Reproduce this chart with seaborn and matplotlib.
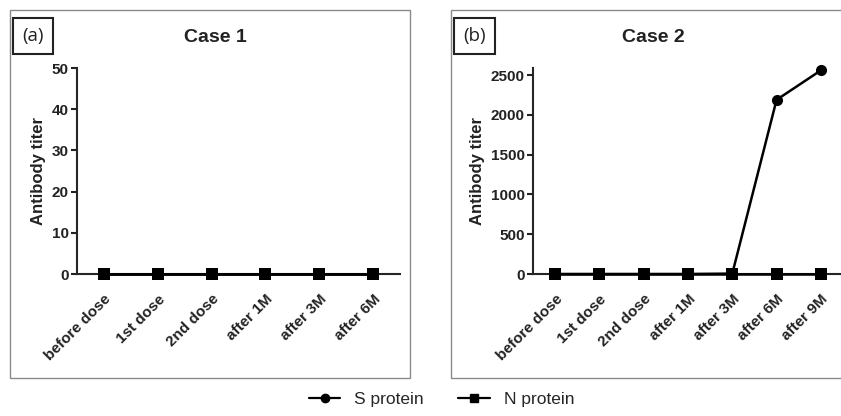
import numpy as np
import pandas as pd
import seaborn as sns
from matplotlib import pyplot as plt
from matplotlib.patches import Rectangle


# Data
case1_labels = ['before dose', '1st dose', '2nd dose', 'after 1M', 'after 3M', 'after 6M']
case1_s = [0, 0, 0, 0, 0, 0]
case1_n = [0, 0, 0, 0, 0, 0]

case2_labels = ['before dose', '1st dose', '2nd dose', 'after 1M', 'after 3M', 'after 6M', 'after 9M']
case2_s = [0, 0, 0, 0, 5, 2190, 2560]
case2_n = [0, 0, 0, 0, 0, 0, 0]


def to_long(labels, s_vals, n_vals):
    df = pd.DataFrame({'time': labels * 2,
                       'titer': s_vals + n_vals,
                       'protein': ['S protein'] * len(labels) + ['N protein'] * len(labels)})
    df['x'] = list(range(len(labels))) * 2
    return df


sns.set_style("ticks")
plt.rcParams['font.family'] = ['Liberation Sans', 'DejaVu Sans']

fig = plt.figure(figsize=(8.41, 4.16), dpi=100)

H = 416.0
W = 841.0
ax1 = fig.add_axes([77 / W, 1 - 274 / H, 323 / W, 206 / H])
ax2 = fig.add_axes([533 / W, 1 - 274 / H, 310 / W, 206 / H])

panels = [
    (ax1, case1_labels, case1_s, case1_n, 50, [0, 10, 20, 30, 40, 50], 'Case 1', '(a)', 10, 400),
    (ax2, case2_labels, case2_s, case2_n, 2590, [0, 500, 1000, 1500, 2000, 2500], 'Case 2', '(b)', 451, 395),
]

for ax, labels, s_vals, n_vals, ytop, yticks, title, tag, px, pw in panels:
    df = to_long(labels, s_vals, n_vals)
    sns.lineplot(data=df, x='x', y='titer', hue='protein', style='protein',
                 markers={'S protein': 'o', 'N protein': 's'}, dashes=False,
                 palette={'S protein': 'black', 'N protein': 'black'},
                 markersize=8, linewidth=1.8, markeredgewidth=0,
                 ax=ax, legend=False, clip_on=False, zorder=3)
    ax.set_xlim(-0.5, len(labels) - 0.5)
    ax.set_ylim(0, ytop)
    ax.set_yticks(yticks)
    ax.set_xticks(range(len(labels)))
    ax.set_xticklabels(labels, rotation=45, ha='right', rotation_mode='anchor')
    ax.tick_params(axis='both', labelsize=11, width=1.5, length=4, color='#222222', pad=2)
    ax.tick_params(axis='x', pad=9)
    for lab in ax.get_xticklabels() + ax.get_yticklabels():
        lab.set_fontweight('bold')
        lab.set_color('#222222')
    ax.set_xlabel('')
    ax.set_ylabel('Antibody titer', fontsize=12, fontweight='bold', color='#222222', labelpad=4)
    sns.despine(ax=ax)
    ax.spines['left'].set_linewidth(1.5)
    ax.spines['bottom'].set_linewidth(1.5)
    ax.patch.set_alpha(0)

    # Panel frame, label box and title
    fig.patches.append(Rectangle((px / W, 1 - 378 / H), pw / W, 368 / H,
                                 transform=fig.transFigure, fill=False,
                                 edgecolor='#8a8a8a', linewidth=1.0))
    ax_center = (px + pw / 2) / W
    fig.text(ax_center + 5 / W, 1 - 38 / H, title, ha='center', va='center',
             fontsize=14, fontweight='bold', color='#222222')
    fig.text((px + 12) / W, 1 - 36 / H, tag, ha='left', va='center', fontsize=13.5,
             color='#222222', family=['Open Sans', 'DejaVu Sans'],
             bbox=dict(boxstyle='square,pad=0.5', facecolor='white', edgecolor='#222222', linewidth=1.5))

# Shared legend at the bottom
handles = [plt.Line2D([], [], color='black', marker='o', markersize=6, linewidth=1.6, label='S protein'),
           plt.Line2D([], [], color='black', marker='s', markersize=6, linewidth=1.6, label='N protein')]
fig.legend(handles=handles, loc='center', bbox_to_anchor=(0.525, 0.04), ncol=2,
           frameon=False, fontsize=12.5, handlelength=1.8, columnspacing=2.0)

plt.savefig('out.png', dpi=100)
